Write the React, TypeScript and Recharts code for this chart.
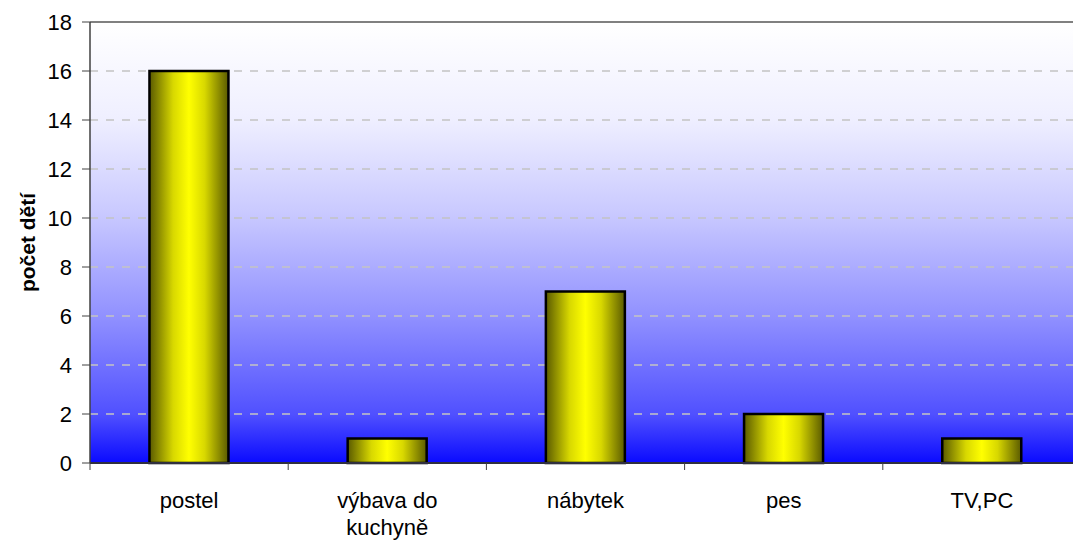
import React from 'react';
import { BarChart, Bar, XAxis, YAxis, CartesianGrid, ReferenceLine } from 'recharts';

const categories = ['postel', 'výbava do kuchyně', 'nábytek', 'pes', 'TV,PC'];
const counts = [16, 1, 7, 2, 1];
const yTicks = [0, 2, 4, 6, 8, 10, 12, 14, 16, 18];
const yLabel = 'počet dětí';

const data = categories.map((c, i) => ({ name: c, value: counts[i] }));

const FONT = 'Liberation Sans, Arial, sans-serif';

function wrapLabel(label: string, maxChars: number): string[] {
  const words = label.split(' ');
  const lines: string[] = [];
  let cur = '';
  for (const w of words) {
    const next = cur ? cur + ' ' + w : w;
    if (next.length > maxChars && cur) {
      lines.push(cur);
      cur = w;
    } else {
      cur = next;
    }
  }
  if (cur) lines.push(cur);
  return lines;
}

const XTick = (props: any) => {
  const { x, y, payload, index } = props;
  const half = payload.offset || 0;
  const lines = wrapLabel(String(payload.value), 12);
  return (
    <g>
      {index === 0 && <line x1={x - half} x2={x - half} y1={y} y2={y + 7} stroke="#404040" strokeWidth={1} />}
      {index < categories.length - 1 && (
        <line x1={x + half} x2={x + half} y1={y} y2={y + 7} stroke="#404040" strokeWidth={1} />
      )}
      <text x={x} y={y + 45} textAnchor="middle" fontSize={22} fontFamily={FONT} fill="#000">
        {lines.map((l, i) => (
          <tspan key={i} x={x} dy={i === 0 ? 0 : 27}>
            {l}
          </tspan>
        ))}
      </text>
    </g>
  );
};

export default function App() {
  return (
    <div style={{ position: 'absolute', left: 0, top: 0 }}>
      <BarChart
        width={1085}
        height={541}
        data={data}
        margin={{ top: 22, right: 4, left: 0, bottom: 0 }}
        barCategoryGap="30%"
      >
        <defs>
          <linearGradient id="bgGrad" x1="0" y1="0" x2="0" y2="1">
            <stop offset="0" stopColor="#ffffff" />
            <stop offset="0.22" stopColor="#efefff" />
            <stop offset="0.44" stopColor="#c8c8ff" />
            <stop offset="0.67" stopColor="#9090ff" />
            <stop offset="0.89" stopColor="#5050ff" />
            <stop offset="1" stopColor="#0a0aff" />
          </linearGradient>
          <linearGradient id="barGrad" x1="0" y1="0" x2="1" y2="0">
            <stop offset="0" stopColor="#5a5a00" />
            <stop offset="0.3" stopColor="#d8d800" />
            <stop offset="0.5" stopColor="#ffff00" />
            <stop offset="0.7" stopColor="#d8d800" />
            <stop offset="1" stopColor="#5a5a00" />
          </linearGradient>
        </defs>
        <CartesianGrid
          vertical={false}
          fill="url(#bgGrad)"
          stroke="#c4c4c4"
          strokeDasharray="8 8"
          strokeWidth={1.3}
        />
        <ReferenceLine y={18} stroke="#808080" strokeWidth={2} />
        <XAxis
          dataKey="name"
          height={78}
          tickLine={false}
          tickSize={0}
          tickMargin={0}
          axisLine={{ stroke: '#303040', strokeWidth: 2 }}
          tick={<XTick />}
          interval={0}
        />
        <YAxis
          width={90}
          domain={[0, 18]}
          ticks={yTicks}
          tickSize={8}
          tickMargin={10}
          axisLine={{ stroke: '#404040', strokeWidth: 1.5 }}
          tickLine={{ stroke: '#404040', strokeWidth: 1 }}
          tick={{ fontSize: 22, fill: '#000', fontFamily: FONT }}
          label={{
            value: yLabel,
            angle: -90,
            position: 'center',
            dx: -17,
            style: { fontSize: 21, fontWeight: 'bold', fill: '#000', fontFamily: FONT },
          }}
        />
        <Bar dataKey="value" fill="url(#barGrad)" stroke="#000" strokeWidth={2.5} isAnimationActive={false} />
      </BarChart>
    </div>
  );
}
